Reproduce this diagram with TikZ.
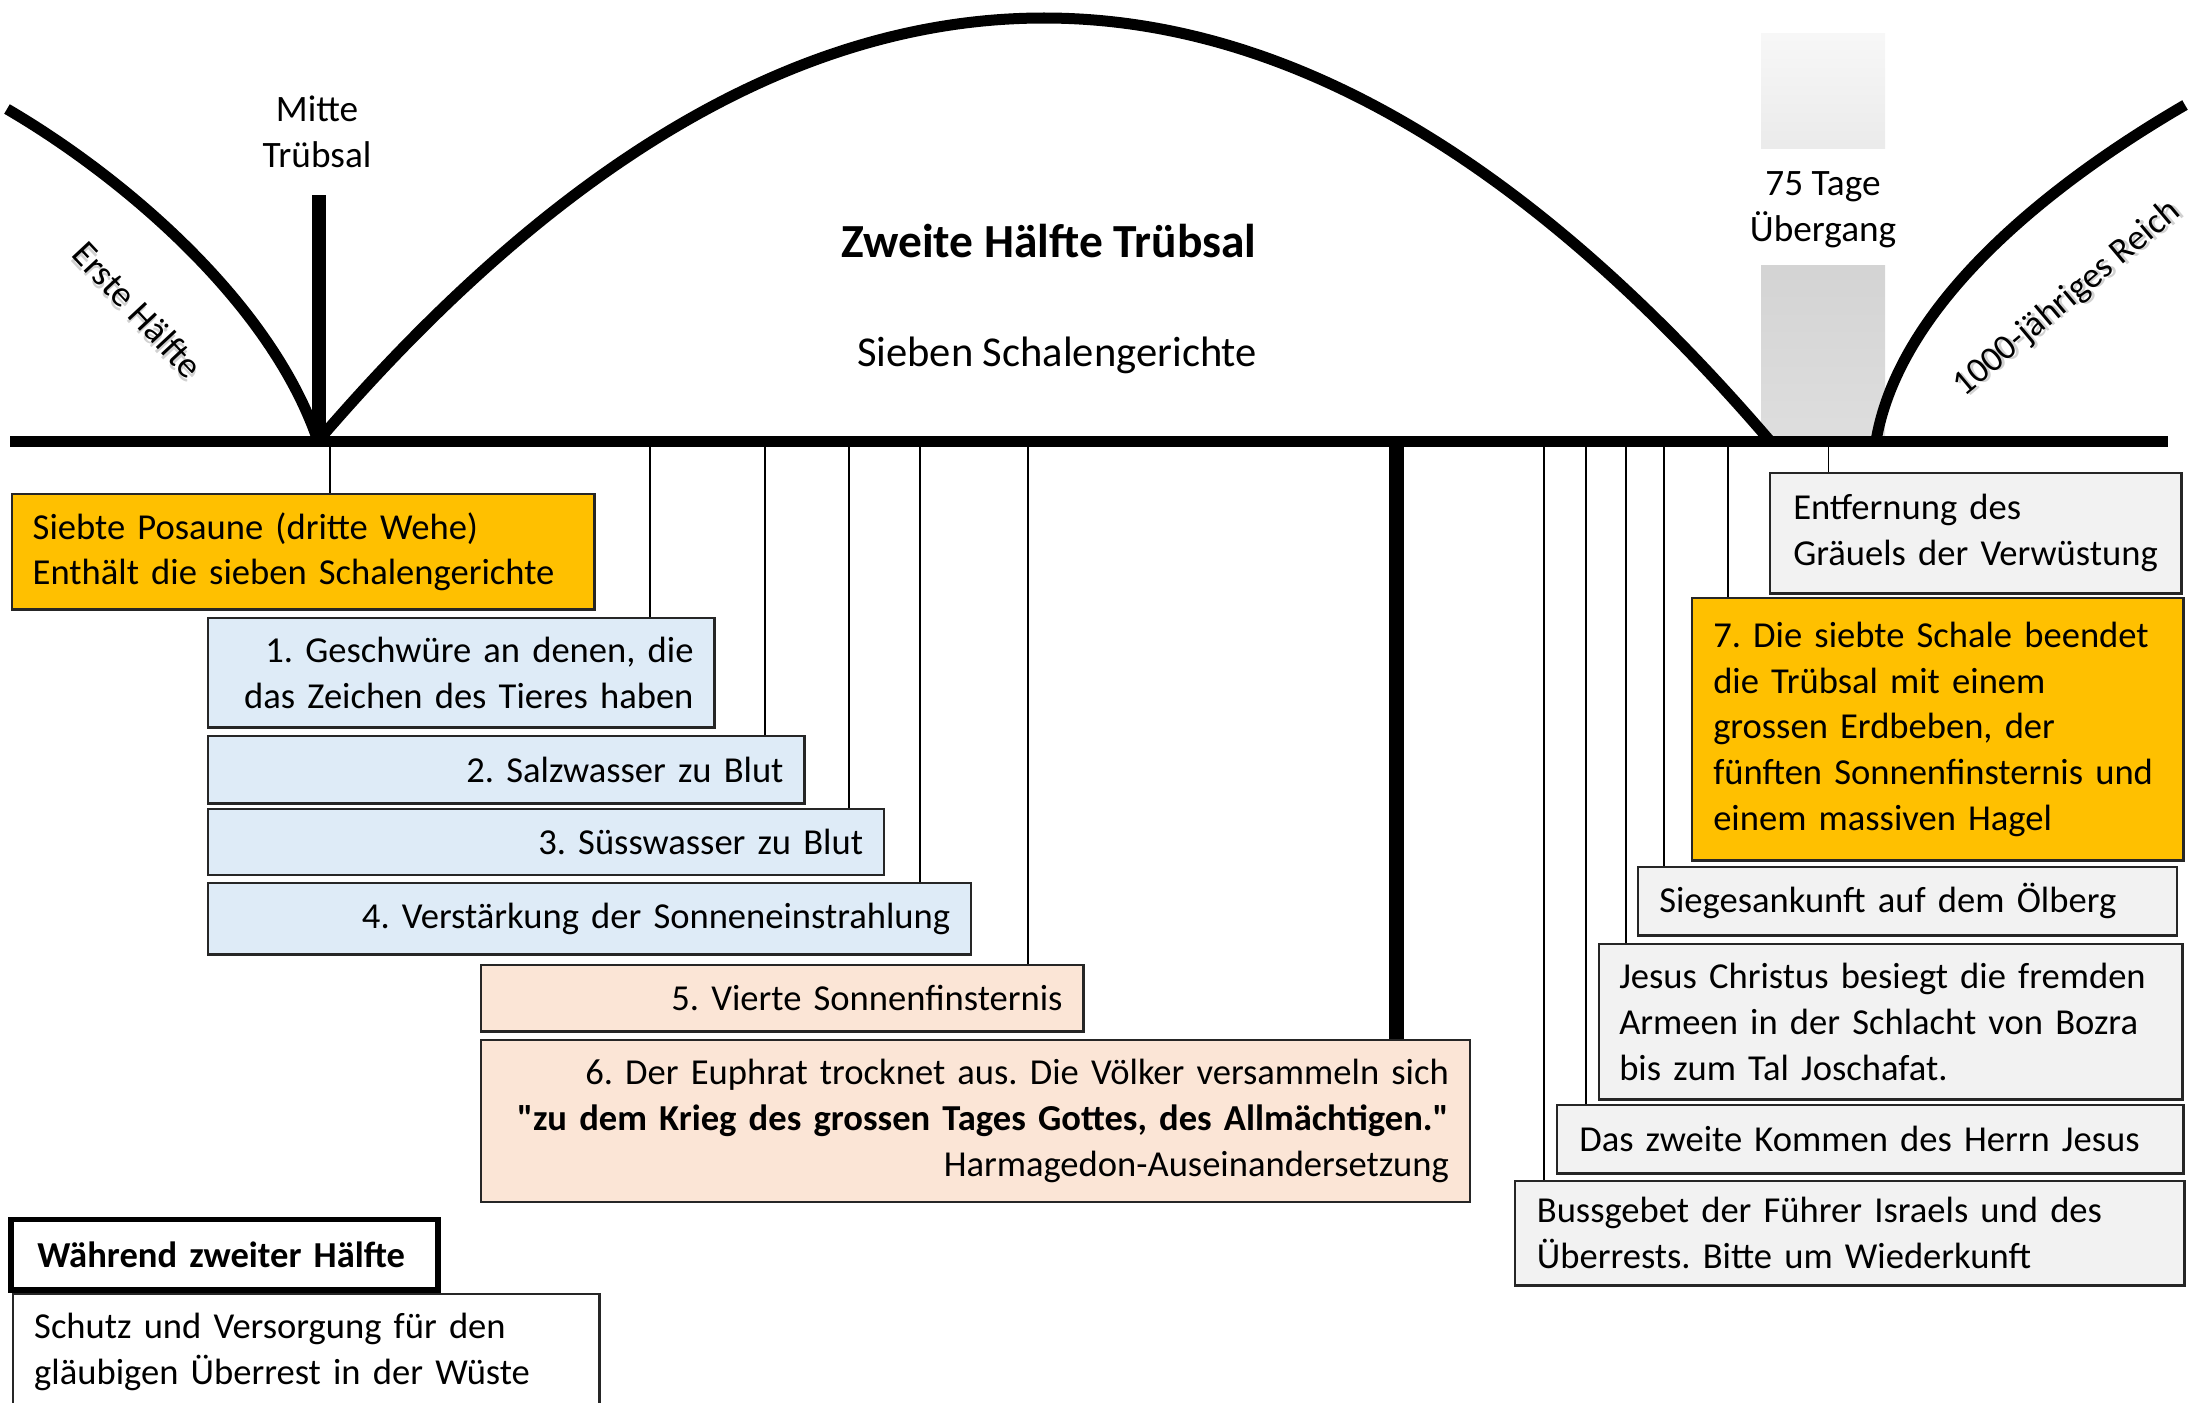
\documentclass[tikz,border=0pt]{standalone}
\usepackage{fontspec}
\setmainfont{Carlito}[Ligatures=TeXOff]
\definecolor{gold}{HTML}{FFC000}
\definecolor{lblue}{HTML}{DEEBF7}
\definecolor{peach}{HTML}{FBE5D6}
\definecolor{lgrey}{HTML}{F2F2F2}
\newcommand{\lin}[1]{\mbox{#1}}
\newcommand{\shadowed}[1]{\makebox[0pt][l]{\hspace{0.6pt}\raisebox{-0.8pt}{\textcolor{black!18}{#1}}}#1}
\frenchspacing
\begin{document}
\begin{tikzpicture}[x=0.01cm,y=-0.01cm,
  every node/.style={font=\fontsize{10.4}{13}\selectfont},
  heavy/.style={line width=0.11cm},
  conn/.style={line width=0.5pt, draw=black},
  bx/.style={draw=black!85, line width=0.7pt, anchor=north west, inner xsep=0.21cm, inner ysep=0pt}
]
\useasboundingbox (0,0) rectangle (2190,1403);

% gradient transition blocks
\shade[top color=white!97!black, bottom color=black!8] (1761,33) rectangle (1885,148);
\shade[top color=black!17, bottom color=black!13] (1761,265) rectangle (1885,441);

% arcs
\draw[heavy] (7,109) .. controls (120,175) and (270,300) .. (318,441);
\draw[heavy] (318,441) .. controls (802,-123) and (1286,-123) .. (1770,441);
\draw[heavy] (1876,441) .. controls (1900,300) and (2056,180) .. (2185,105);

% baseline
\coordinate (bl) at (10,441);
\coordinate (br) at (2168,441);
\draw[heavy] (bl) -- (br);

% mid line
\coordinate (mtop) at (319,195);
\coordinate (mbot) at (319,441);
\draw[line width=0.14cm] (mtop) -- (mbot);

% labels
\node[align=center, font=\fontsize{10.6}{13}\selectfont] (mitte) at (317,132) {Mitte\\Trübsal};
\node (title) at (1049,241) {\fontsize{13.5}{16}\selectfont\bfseries Zweite Hälfte Trübsal};
\node (sieben) at (1057,355) {\fontsize{12.1}{14}\selectfont Sieben Schalengerichte};
\node[align=center, font=\fontsize{10.6}{13}\selectfont] (tage) at (1823,210) {75 Tage\\Übergang};
\node[rotate=-47] (erste) at (137,311) {\shadowed{Erste Hälfte}};
\node[rotate=40, font=\fontsize{10.2}{12}\selectfont] (reich) at (2068,300) {\shadowed{1000-jähriges Reich}};

% left boxes
\node[bx, fill=gold, minimum width=5.825cm, minimum height=1.15cm, text width=5.405cm, align=left] (s7) at (10.5,493)
  {\lin{Siebte Posaune (dritte Wehe)}\\\lin{Enthält die sieben Schalengerichte}};
\node[bx, fill=lblue, minimum width=5.06cm, minimum height=1.09cm, text width=4.64cm, align=right] (b1) at (207,617)
  {\lin{1. Geschwüre an denen, die}\\\lin{das Zeichen des Tieres haben}};
\node[bx, fill=lblue, minimum width=5.96cm, minimum height=0.675cm, text width=5.54cm, align=right] (b2) at (207,734.5)
  {\lin{2. Salzwasser zu Blut}};
\node[bx, fill=lblue, minimum width=6.755cm, minimum height=0.66cm, text width=6.335cm, align=right] (b3) at (207,807.6)
  {\lin{3. Süsswasser zu Blut}};
\node[bx, fill=lblue, minimum width=7.625cm, minimum height=0.715cm, text width=7.205cm, align=right] (b4) at (207,881.6)
  {\lin{4. Verstärkung der Sonneneinstrahlung}};
\node[bx, fill=peach, minimum width=6.02cm, minimum height=0.665cm, text width=5.60cm, align=right] (b5) at (480,963.6)
  {\lin{5. Vierte Sonnenfinsternis}};
\node[bx, fill=peach, minimum width=9.88cm, minimum height=1.62cm, text width=9.46cm, align=right] (b6) at (480,1038.5)
  {\lin{6. Der Euphrat trocknet aus. Die Völker versammeln sich}\\\lin{\bfseries "zu dem Krieg des grossen Tages Gottes, des Allmächtigen."}\\\lin{Harmagedon-Auseinandersetzung}};
\node[bx, draw=black, line width=1.7pt, fill=white, minimum width=4.266cm, minimum height=0.705cm, inner xsep=0.26cm, text width=3.746cm, align=left] (wh) at (8.4,1216.5)
  {\lin{\bfseries Während zweiter Hälfte}};
\node[bx, fill=white, minimum width=5.86cm, minimum height=1.16cm, text width=5.44cm, align=left] (schutz) at (12,1293)
  {\lin{Schutz und Versorgung für den}\\\lin{gläubigen Überrest in der Wüste}};

% right boxes
\node[bx, fill=lgrey, minimum width=4.11cm, minimum height=1.20cm, inner xsep=0.23cm, text width=3.65cm, align=left] (ent) at (1769,472)
  {\lin{Entfernung des}\\\lin{Gräuels der Verwüstung}};
\node[bx, fill=gold, minimum width=4.91cm, minimum height=2.62cm, text width=4.49cm, align=left] (b7) at (1691,597)
  {\lin{7. Die siebte Schale beendet}\\\lin{die Trübsal mit einem}\\\lin{grossen Erdbeben, der}\\\lin{fünften Sonnenfinsternis und}\\\lin{einem massiven Hagel}};
\node[bx, fill=lgrey, minimum width=5.385cm, minimum height=0.68cm, text width=4.965cm, align=left] (sieg) at (1637,866)
  {\lin{Siegesankunft auf dem Ölberg}};
\node[bx, fill=lgrey, minimum width=5.83cm, minimum height=1.55cm, inner xsep=0.20cm, text width=5.43cm, align=left] (jesus) at (1598,943)
  {\lin{Jesus Christus besiegt die fremden}\\\lin{Armeen in der Schlacht von Bozra}\\\lin{bis zum Tal Joschafat.}};
\node[bx, fill=lgrey, minimum width=6.26cm, minimum height=0.68cm, inner xsep=0.22cm, text width=5.82cm, align=left] (komm) at (1556,1104)
  {\lin{Das zweite Kommen des Herrn Jesus}};
\node[bx, fill=lgrey, minimum width=6.694cm, minimum height=1.04cm, inner xsep=0.22cm, text width=6.254cm, align=left] (buss) at (1513.6,1180)
  {\lin{Bussgebet der Führer Israels und des}\\\lin{Überrests. Bitte um Wiederkunft}};

% connectors
\coordinate (cs7) at (330,441);
\coordinate (c1) at (650,441);
\coordinate (c2) at (765,441);
\coordinate (c3) at (849,441);
\coordinate (c4) at (920,441);
\coordinate (c5) at (1028,441);
\coordinate (c6) at (1396,441);
\coordinate (cbuss) at (1544,441);
\coordinate (ckomm) at (1586,441);
\coordinate (cjesus) at (1626,441);
\coordinate (csieg) at (1664,441);
\coordinate (c7) at (1728,441);
\coordinate (cent) at (1828.5,441);
\draw[conn] (cs7) -- (cs7 |- s7.north);
\draw[conn] (c1) -- (c1 |- b1.north);
\draw[conn] (c2) -- (c2 |- b2.north);
\draw[conn] (c3) -- (c3 |- b3.north);
\draw[conn] (c4) -- (c4 |- b4.north);
\draw[conn] (c5) -- (c5 |- b5.north);
\draw[line width=0.15cm] (c6) -- (c6 |- b6.north);
\draw[conn] (cbuss) -- (cbuss |- buss.north);
\draw[conn] (ckomm) -- (ckomm |- komm.north);
\draw[conn] (cjesus) -- (cjesus |- jesus.north);
\draw[conn] (csieg) -- (csieg |- sieg.north);
\draw[conn] (c7) -- (c7 |- b7.north);
\draw[conn] (cent) -- (cent |- ent.north);
\end{tikzpicture}
\end{document}
